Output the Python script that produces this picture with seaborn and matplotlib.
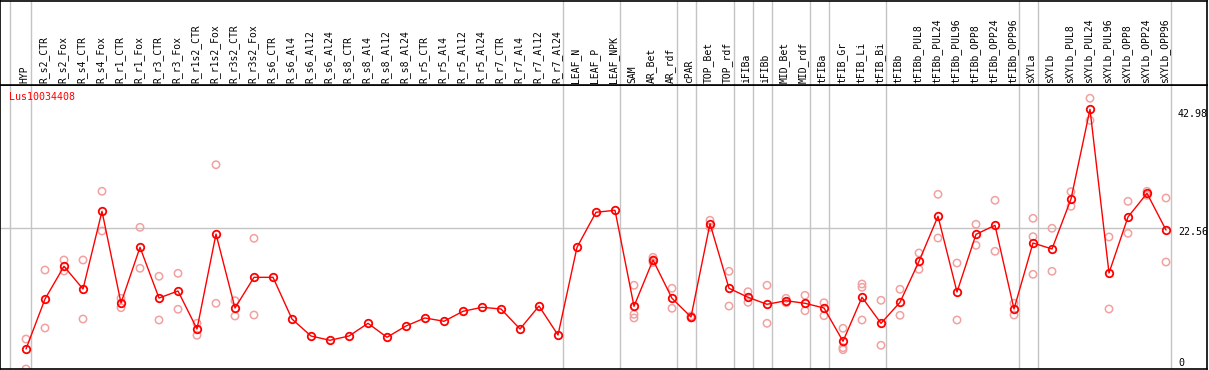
import matplotlib
matplotlib.use("Agg")
import matplotlib.pyplot as plt
import numpy as np
import pandas as pd
import seaborn as sns

# ------------------------------------------------------------
# Data
# ------------------------------------------------------------
gene = "Lus10034408"

samples = [
    "HYP", "R_s2_CTR", "R_s2_Fox", "R_s4_CTR", "R_s4_Fox", "R_r1_CTR", "R_r1_Fox",
    "R_r3_CTR", "R_r3_Fox", "R_r1s2_CTR", "R_r1s2_Fox", "R_r3s2_CTR", "R_r3s2_Fox",
    "R_s6_CTR", "R_s6_Al4", "R_s6_Al12", "R_s6_Al24", "R_s8_CTR", "R_s8_Al4",
    "R_s8_Al12", "R_s8_Al24", "R_r5_CTR", "R_r5_Al4", "R_r5_Al12", "R_r5_Al24",
    "R_r7_CTR", "R_r7_Al4", "R_r7_Al12", "R_r7_Al24", "LEAF_N", "LEAF_P", "LEAF_NPK",
    "SAM", "AR_Bet", "AR_rdf", "cPAR", "TOP_Bet", "TOP_rdf", "iFIBa", "iFIBb",
    "MID_Bet", "MID_rdf", "tFIBa", "tFIB_Gr", "tFIB_Li", "tFIB_Bi", "tFIBb",
    "tFIBb_PUL8", "tFIBb_PUL24", "tFIBb_PUL96", "tFIBb_OPP8", "tFIBb_OPP24",
    "tFIBb_OPP96", "sXYLa", "sXYLb", "sXYLb_PUL8", "sXYLb_PUL24", "sXYLb_PUL96",
    "sXYLb_OPP8", "sXYLb_OPP24", "sXYLb_OPP96",
]

means = [
    1.64, 10.26, 15.90, 11.99, 25.39, 9.57, 19.18,
    10.43, 11.64, 5.09, 21.47, 8.71, 14.00,
    14.00, 6.81, 3.88, 3.14, 3.88, 6.07,
    3.66, 5.61, 6.99, 6.42, 8.14, 8.83,
    8.54, 5.09, 9.05, 4.05, 19.18, 25.22, 25.56,
    9.00, 16.99, 10.38, 7.16, 23.25, 12.11, 10.56, 9.35,
    9.97, 9.52, 8.71, 2.97, 10.56, 6.07, 9.69,
    16.76, 24.53, 11.47, 21.42, 22.97,
    8.54, 19.92, 18.89, 27.51, 42.98, 14.75,
    24.41, 28.49, 22.16,
]

replicates = [
    [3.36, -1.81], [15.26, 5.26], [16.99, 15.09], [16.99, 6.81], [28.84, 21.99],
    [10.38, 8.76], [22.63, 15.56], [14.18, 6.64], [14.69, 8.49], [6.07, 4.00],
    [33.42, 9.52], [9.97, 7.33], [20.73, 7.50],
    [], [], [], [], [], [], [], [], [], [], [], [], [], [], [], [],
    [], [], [],
    [12.63, 7.62, 6.99], [17.45, 16.99, 16.55], [12.11, 8.66], [7.33, 6.99],
    [23.84, 22.63], [15.04, 9.05], [11.52, 9.69], [12.63, 6.07],
    [10.38, 9.62], [10.90, 8.24], [9.62, 7.38], [5.21, 1.86, 1.52],
    [12.85, 12.28, 6.64], [10.04, 2.28], [11.94, 7.45],
    [18.20, 15.38], [28.32, 20.78], [16.47, 6.64], [23.15, 19.52], [27.29, 18.49],
    [9.52, 7.50], [24.18, 21.01, 14.52], [22.46, 15.04], [28.77, 26.25],
    [44.88, 41.08], [20.96, 8.54], [27.11, 21.59], [28.84, 28.15], [27.68, 16.64],
]

# last sample of each tissue group (a separator is drawn right after it)
group_ends = [0, 28, 31, 34, 35, 37, 38, 39, 41, 42, 45, 52, 53, 60]

axis_labels = [42.98, 22.56, 0]
grid_value = 22.56

# ------------------------------------------------------------
# Style
# ------------------------------------------------------------
W, H = 1209, 370
STEP = 19.0          # pixels per sample
X0 = 26.0            # pixel position of the first sample
PLOT_RIGHT = 1207.0
HEADER_BOTTOM = 85.0
PLOT_BOTTOM = 369.0
Y_ZERO = 358.5       # pixel row of value 0
PX_PER_UNIT = 5.798

MEAN_RED = "#ff0000"
REP_PINK = "#f2a0a0"
GRID = "#c4c4c4"

sns.set_style("white")
plt.rcParams["font.family"] = ["DejaVu Sans Mono"]

x = np.arange(len(samples))
rep_df = pd.DataFrame(
    [(i, v) for i, vals in enumerate(replicates) for v in vals], columns=["pos", "value"]
)

fig = plt.figure(figsize=(W / 100, H / 100), dpi=100)
ax = fig.add_axes([0, (H - PLOT_BOTTOM) / H, PLOT_RIGHT / W,
                   (PLOT_BOTTOM - HEADER_BOTTOM) / H])
hax = fig.add_axes([0, (H - HEADER_BOTTOM) / H, PLOT_RIGHT / W,
                    (HEADER_BOTTOM - 1) / H], sharex=ax)

xlim = (-X0 / STEP, (PLOT_RIGHT - X0) / STEP)
ylim = ((Y_ZERO - PLOT_BOTTOM) / PX_PER_UNIT, (Y_ZERO - HEADER_BOTTOM) / PX_PER_UNIT)

# separators
seps = [-0.84] + [g + 0.24 for g in group_ends]
for a in (ax, hax):
    for s in seps:
        a.axvline(s, color=GRID, lw=1, zorder=0)
ax.hlines(grid_value, xlim[0], seps[-1], color=GRID, lw=1, zorder=0)

sns.scatterplot(data=rep_df, x="pos", y="value", ax=ax, marker="o", s=28,
                facecolor="none", edgecolor=REP_PINK, linewidth=1.1, zorder=2,
                legend=False)
sns.lineplot(x=x, y=means, ax=ax, color=MEAN_RED, lw=1, sort=False,
             marker="o", markersize=5.4, markerfacecolor="none",
             markeredgecolor=MEAN_RED, markeredgewidth=1.3, zorder=3)

ax.set_xlim(*xlim)
ax.set_ylim(*ylim)
ax.set_xticks([])
ax.set_yticks([])
ax.set_xlabel("")
ax.set_ylabel("")

for v in axis_labels:
    ax.annotate(f"{v:g}" if v == 0 else f"{v:.2f}", xy=(1178 / PLOT_RIGHT, v),
                xycoords=("axes fraction", "data"), xytext=(0, -4.5),
                textcoords="offset pixels", ha="left", va="center",
                fontsize=7.2, color="black")

ax.text(9 / PLOT_RIGHT, (PLOT_BOTTOM - 97) / (PLOT_BOTTOM - HEADER_BOTTOM), gene,
        transform=ax.transAxes, color=MEAN_RED, fontsize=7.2, ha="left", va="center")

# header with rotated sample names
hax.set_ylim(0, HEADER_BOTTOM - 1)
for i, name in enumerate(samples):
    hax.text(i - 0.08, 2, name, rotation=90, ha="center", va="bottom",
             fontsize=7, color="black")
hax.set_yticks([])
hax.tick_params(labelbottom=False, bottom=False)

for a in (ax, hax):
    for sp in a.spines.values():
        sp.set_color("black")
        sp.set_linewidth(1.2)

fig.savefig("out.png", dpi=100)
